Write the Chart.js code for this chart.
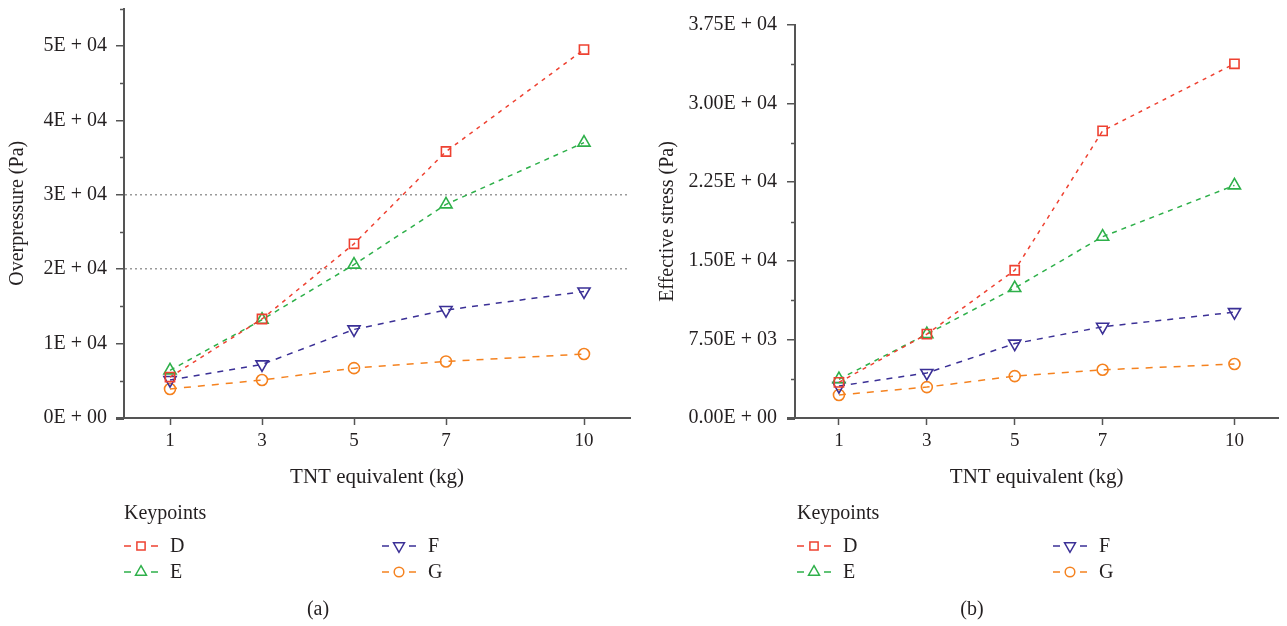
<!DOCTYPE html>
<html><head><meta charset="utf-8">
<script src="https://cdn.jsdelivr.net/npm/chart.js@4.4.1/dist/chart.umd.min.js"></script>
<style>
html,body{margin:0;padding:0;background:#fff;}
#wrap{position:relative;width:1287px;height:626px;overflow:hidden;}
canvas{position:absolute;top:0;}
#a{left:0;} #b{left:643px;}
</style></head><body>
<div id="wrap"><canvas id="a" width="643" height="626"></canvas><canvas id="b" width="644" height="626"></canvas></div>
<script>
// ---- data ----
const tnt = [1, 3, 5, 7, 10];
const xTickValues = [1, 3, 5, 7, 10];
const keypoints = ['D', 'E', 'F', 'G'];

const overD = [5500, 13300, 23400, 35800, 49500];
const overE = [6400, 13200, 20600, 28700, 37000];
const overF = [5100, 7200, 11900, 14500, 17000];
const overG = [3900, 5100, 6700, 7600, 8600];

const stressD = [3400, 8000, 14100, 27400, 33800];
const stressE = [3700, 8000, 12400, 17300, 22200];
const stressF = [3050, 4300, 7100, 8700, 10100];
const stressG = [2200, 2950, 4000, 4600, 5150];

const overTickLabels = ['0E + 00', '1E + 04', '2E + 04', '3E + 04', '4E + 04', '5E + 04'];
const stressTickLabels = ['0.00E + 00', '7.50E + 03', '1.50E + 04', '2.25E + 04', '3.00E + 04', '3.75E + 04'];

// ---- styles ----
const FONT = "'Liberation Serif', 'Times New Roman', serif";
const TEXT = '#231f20';
const AXIS = '#555555';
const seriesStyle = {
  D: {color: '#ee4131', pointStyle: 'rect', rotation: 0, dash: [4, 5], radius: 6.5},
  E: {color: '#2eb04a', pointStyle: 'triangle', rotation: 0, dash: [5, 5], radius: 7},
  F: {color: '#3b3096', pointStyle: 'triangle', rotation: 180, dash: [6, 6], radius: 7},
  G: {color: '#f5821f', pointStyle: 'circle', rotation: 0, dash: [7, 7], radius: 5.5}
};

function makeDatasets(seriesArrays) {
  return keypoints.map((k, i) => {
    const s = seriesStyle[k];
    return {
      label: k,
      data: tnt.map((x, j) => ({x: x, y: seriesArrays[i][j]})),
      borderColor: s.color,
      backgroundColor: 'rgba(255,255,255,0)',
      borderWidth: 1.5,
      borderDash: s.dash,
      pointStyle: s.pointStyle,
      pointRotation: s.rotation,
      pointRadius: s.radius,
      pointBorderWidth: 1.6,
      pointBorderColor: s.color,
      pointBackgroundColor: 'rgba(255,255,255,0)',
      tension: 0,
      fill: false
    };
  });
}

const overlayPlugin = {
  id: 'overlay',
  afterDraw(chart, args, o) {
    const ctx = chart.ctx;
    const area = chart.chartArea;
    const ys = chart.scales.y;
    ctx.save();
    // minor ticks
    ctx.strokeStyle = AXIS;
    ctx.lineWidth = 1.5;
    for (let v = 0; v <= o.max + 1e-6; v += o.minor) {
      if (Math.abs(v / o.major - Math.round(v / o.major)) < 1e-6) continue;
      const py = Math.round(ys.getPixelForValue(v)) + 0.5;
      ctx.beginPath();
      ctx.moveTo(area.left - 4, py);
      ctx.lineTo(area.left, py);
      ctx.stroke();
    }
    // x-axis short extension to the left
    ctx.lineWidth = 2;
    ctx.beginPath();
    ctx.moveTo(area.left - 8, area.bottom + 1);
    ctx.lineTo(area.left, area.bottom + 1);
    ctx.stroke();

    // legend
    ctx.fillStyle = TEXT;
    ctx.font = '20px ' + FONT;
    ctx.textAlign = 'left';
    ctx.textBaseline = 'alphabetic';
    ctx.fillText('Keypoints', o.legendX, 519);
    const pos = {D: [o.legendX, 546], E: [o.legendX, 572], F: [o.col2X, 546], G: [o.col2X, 572]};
    chart.data.datasets.forEach(ds => {
      const p = pos[ds.label];
      const x = p[0], y = p[1];
      ctx.strokeStyle = ds.borderColor;
      ctx.lineWidth = 1.5;
      ctx.setLineDash([]);
      ctx.beginPath();
      ctx.moveTo(x, y); ctx.lineTo(x + 7, y);
      ctx.moveTo(x + 27, y); ctx.lineTo(x + 34, y);
      ctx.stroke();
      ctx.fillStyle = 'rgba(255,255,255,0)';
      ctx.strokeStyle = ds.borderColor;
      ctx.lineWidth = 1.5;
      Chart.helpers.drawPoint(ctx, {
        pointStyle: ds.pointStyle,
        rotation: ds.pointRotation,
        radius: ds.pointStyle === 'circle' ? 4.8 : (ds.pointStyle === 'rect' ? 5.8 : 6.3),
        borderWidth: 1.5
      }, x + 17, y);
      ctx.fillStyle = TEXT;
      ctx.textBaseline = 'middle';
      ctx.fillText(ds.label, x + 46, y + 1);
    });
    // caption
    ctx.textAlign = 'center';
    ctx.textBaseline = 'middle';
    ctx.fillText(o.caption, o.captionX, 610);
    ctx.restore();
  }
};

function buildChart(id, datasets, cfg) {
  return new Chart(document.getElementById(id), {
    type: 'line',
    data: {datasets: datasets},
    plugins: [overlayPlugin],
    options: {
      responsive: false,
      animation: false,
      devicePixelRatio: 1,
      layout: {padding: {left: 0, right: cfg.padRight, top: cfg.padTop, bottom: 128}},
      plugins: {
        legend: {display: false},
        tooltip: {enabled: false},
        overlay: cfg.overlay
      },
      scales: {
        x: {
          type: 'linear',
          min: 0,
          max: 11,
          afterBuildTicks: (s) => { s.ticks = xTickValues.map(v => ({value: v})); },
          afterFit: (s) => { s.height = 80; },
          grid: {drawOnChartArea: false, drawTicks: true, tickLength: 7, tickColor: AXIS, tickWidth: 1.5},
          border: {display: true, color: AXIS, width: 2},
          ticks: {color: TEXT, font: {family: FONT, size: 19}, padding: 5, maxRotation: 0, autoSkip: false,
                  callback: (v) => String(v)},
          title: {display: true, text: 'TNT equivalent (kg)', color: TEXT, font: {family: FONT, size: 21},
                  padding: {top: 0, bottom: 8}}
        },
        y: {
          type: 'linear',
          min: 0,
          max: cfg.max,
          afterBuildTicks: (s) => {
            const t = [];
            for (let v = 0; v <= cfg.max + 1e-6; v += cfg.overlay.minor) t.push({value: v});
            s.ticks = t;
          },
          afterFit: (s) => { s.width = cfg.yWidth; s.paddingTop = 0; s.paddingBottom = 0; },
          grid: {
            drawOnChartArea: true,
            drawTicks: true,
            tickLength: 8,
            lineWidth: 1.5,
            color: (c) => (c.tick && cfg.gridAt.indexOf(c.tick.value) >= 0) ? '#9a9a9a' : 'rgba(0,0,0,0)',
            tickColor: (c) => (c.tick && Math.abs(c.tick.value % cfg.overlay.major) < 1e-6) ? AXIS : 'rgba(0,0,0,0)',
            tickWidth: 1.5
          },
          border: {display: true, color: AXIS, width: 2, dash: [2, 3]},
          ticks: {
            color: TEXT, font: {family: FONT, size: 20}, padding: cfg.tickPad, autoSkip: false,
            callback: (v) => {
              const r = v / cfg.overlay.major;
              if (Math.abs(r - Math.round(r)) > 1e-6) return '';
              return cfg.labels[Math.round(r)] || '';
            }
          },
          title: {display: true, text: cfg.yTitle, color: TEXT, font: {family: FONT, size: 20},
                  padding: {top: cfg.titlePad, bottom: 0}}
        }
      }
    }
  });
}

buildChart('a', makeDatasets([overD, overE, overF, overG]), {
  max: 55000, labels: overTickLabels, gridAt: [20000, 30000], yTitle: 'Overpressure (Pa)',
  padRight: 13, padTop: 8, yWidth: 124, tickPad: 9, titlePad: 6,
  overlay: {major: 10000, minor: 5000, max: 55000, legendX: 124, col2X: 382, caption: '(a)', captionX: 318}
});

buildChart('b', makeDatasets([stressD, stressE, stressF, stressG]), {
  max: 37500, labels: stressTickLabels, gridAt: [], yTitle: 'Effective stress (Pa)',
  padRight: 1, padTop: 25, yWidth: 152, tickPad: 10, titlePad: 13,
  overlay: {major: 7500, minor: 3750, max: 37500, legendX: 154, col2X: 410, caption: '(b)', captionX: 329}
});
</script>
</body></html>
